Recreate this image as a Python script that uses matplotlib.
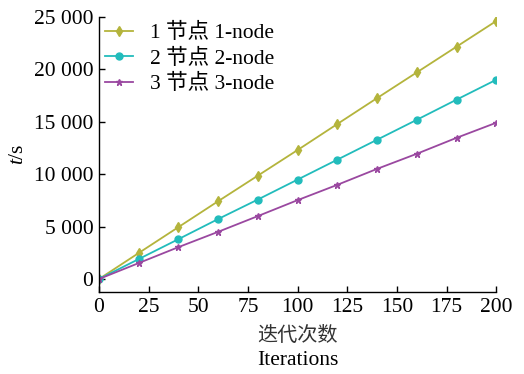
import matplotlib
matplotlib.use("Agg")
import matplotlib.pyplot as plt
from matplotlib.ticker import FuncFormatter

iterations = [0, 20, 40, 60, 80, 100, 120, 140, 160, 180, 200]
node1 = [0, 2480, 4950, 7420, 9860, 12300, 14780, 17250, 19700, 22150, 24600]
node2 = [0, 1900, 3800, 5720, 7580, 9480, 11380, 13280, 15180, 17100, 19000]
node3 = [0, 1520, 3040, 4500, 6000, 7520, 8980, 10500, 11940, 13460, 14900]
labels = ["1 节点 1-node", "2 节点 2-node", "3 节点 3-node"]
colors = ["#b4b43c", "#22bcbc", "#9a48a0"]
markers = ["d", "o", "*"]
xticks = [0, 25, 50, 75, 100, 125, 150, 175, 200]
yticks = [0, 5000, 10000, 15000, 20000, 25000]

fam = ["Liberation Serif", "Noto Sans CJK SC"]
plt.rcParams['font.family'] = fam
fs = 15.5
plt.rcParams['font.size'] = fs
plt.rcParams['mathtext.fontset'] = 'custom'
plt.rcParams['mathtext.it'] = 'Liberation Serif:italic'
plt.rcParams['mathtext.rm'] = 'Liberation Serif'

fig = plt.figure(figsize=(5.24, 3.74), dpi=100)
ax = fig.add_axes([0.189, 0.219, 0.758, 0.736])

for ys, lab, c, m in zip([node1, node2, node3], labels, colors, markers):
    ax.plot(iterations, ys, color=c, marker=m, markersize=5, linewidth=1.3, label=lab)

ax.set_xlim(0, 200)
ax.set_ylim(-1250, 25000)
ax.set_xticks(xticks)
ax.set_yticks(yticks)
ax.yaxis.set_major_formatter(FuncFormatter(lambda v, p: f"{int(v):,}".replace(",", " ")))
ax.spines['top'].set_visible(False)
ax.spines['right'].set_visible(False)
ax.tick_params(direction='in', length=4, width=1, labelsize=fs, pad=4)
for s in ['left', 'bottom']:
    ax.spines[s].set_linewidth(1)

ax.set_ylabel("$t$/s", fontsize=fs, labelpad=4)

xc = 0.189 + 0.758 / 2
fig.text(xc, 0.088, "迭代次数", ha='center', va='baseline', fontsize=14.5,
         family=["Noto Sans CJK SC", "Liberation Serif"], fontweight='light', color='#333333')
fig.text(xc, 0.024, "Iterations", ha='center', va='baseline', fontsize=fs)

leg = ax.legend(loc='upper left', frameon=False, fontsize=fs, handlelength=1.3,
                borderaxespad=0.2, borderpad=0.1, labelspacing=0.25, handletextpad=0.75,
                bbox_to_anchor=(0.0, 1.0))

fig.savefig("out.png", dpi=100)
